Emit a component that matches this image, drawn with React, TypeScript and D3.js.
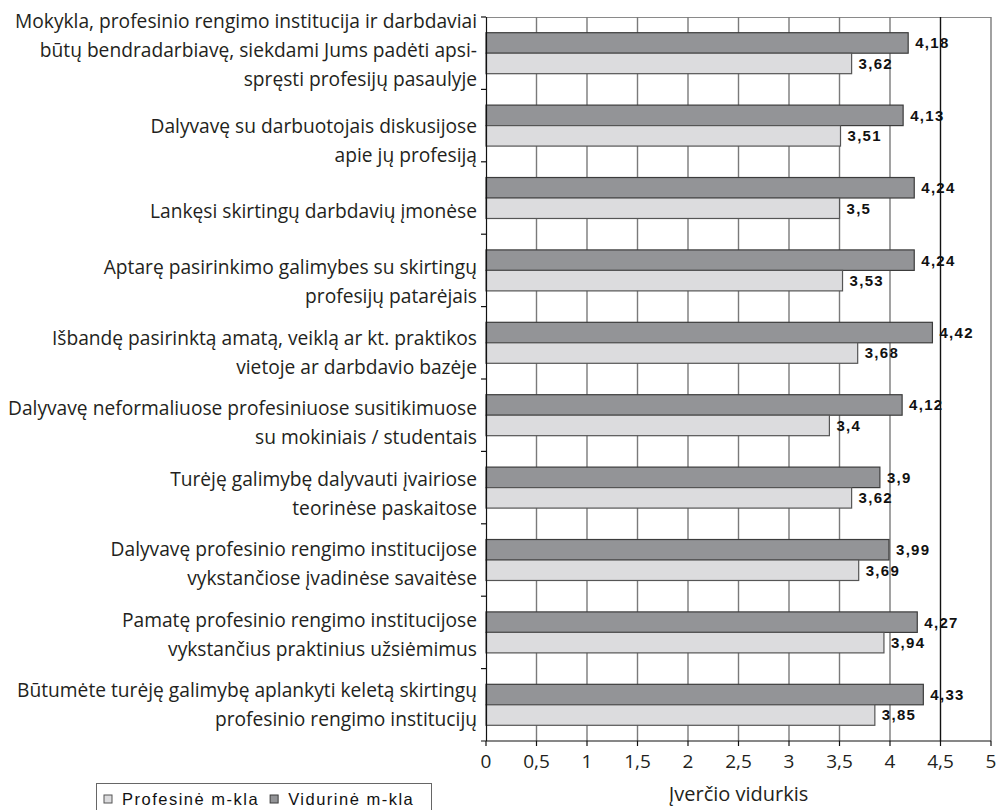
import * as d3 from 'd3';
import { useEffect, useRef } from 'react';

const categories = [
  ['Mokykla, profesinio rengimo institucija ir darbdaviai', 'būtų bendradarbiavę, siekdami Jums padėti apsi-', 'spręsti profesijų pasaulyje'],
  ['Dalyvavę su darbuotojais diskusijose', 'apie jų profesiją'],
  ['Lankęsi skirtingų darbdavių įmonėse'],
  ['Aptarę pasirinkimo galimybes su skirtingų', 'profesijų patarėjais'],
  ['Išbandę pasirinktą amatą, veiklą ar kt. praktikos', 'vietoje ar darbdavio  bazėje'],
  ['Dalyvavę neformaliuose profesiniuose susitikimuose', 'su mokiniais / studentais'],
  ['Turėję galimybę dalyvauti įvairiose', 'teorinėse paskaitose'],
  ['Dalyvavę profesinio rengimo institucijose', 'vykstančiose įvadinėse savaitėse'],
  ['Pamatę profesinio rengimo institucijose', 'vykstančius praktinius užsiėmimus'],
  ['Būtumėte turėję galimybę aplankyti keletą skirtingų', 'profesinio rengimo institucijų'],
];
const vidurine = [4.18, 4.13, 4.24, 4.24, 4.42, 4.12, 3.9, 3.99, 4.27, 4.33];
const profesine = [3.62, 3.51, 3.5, 3.53, 3.68, 3.4, 3.62, 3.69, 3.94, 3.85];
const seriesNames = ['Vidurinė m-kla', 'Profesinė m-kla'];
const legendOrder = ['Profesinė m-kla', 'Vidurinė m-kla'];
const xTicks = [0, 0.5, 1, 1.5, 2, 2.5, 3, 3.5, 4, 4.5, 5];
const xTitle = 'Įverčio vidurkis';

const colors: Record<string, { fill: string; stroke: string }> = {
  'Vidurinė m-kla': { fill: '#939497', stroke: '#3c3c3c' },
  'Profesinė m-kla': { fill: '#dcdcde', stroke: '#555555' },
};

const fmt = (v: number) => String(v).replace('.', ',');

export default function App() {
  const svgRef = useRef<SVGSVGElement>(null);

  useEffect(() => {
    const svgEl = svgRef.current;
    if (!svgEl) return;
    const width = 996;
    const height = 810;
    const margin = { top: 17, right: 5, bottom: 69, left: 486 };
    const innerW = width - margin.left - margin.right;
    const innerH = height - margin.top - margin.bottom;

    const svg = d3.select(svgEl);
    svg.attr('width', width).attr('height', height);
    svg.selectAll('*').remove();

    const keys = categories.map((_, i) => String(i));
    const rows = keys.map((k, i) => ({ key: k, values: [vidurine[i], profesine[i]] }));

    const x = d3.scaleLinear().domain([0, 5]).range([0, innerW]);
    const y = d3.scaleBand<string>().domain(keys).range([0, innerH]).paddingInner(0.434).paddingOuter(0.217);
    const band = d3.scaleBand<string>().domain(['0', '1']).range([0, y.bandwidth()]);
    const step = innerH / keys.length;

    const g = svg.append('g').attr('transform', `translate(${margin.left},${margin.top})`);

    // top border
    g.append('line').attr('x1', 0).attr('x2', innerW).attr('y1', 0.5).attr('y2', 0.5)
      .attr('stroke', '#8a8a8a').attr('stroke-width', 1.2);

    // vertical gridlines
    g.selectAll('.grid')
      .data(xTicks.filter((t) => t > 0))
      .join('line')
      .attr('x1', (d) => x(d)).attr('x2', (d) => x(d))
      .attr('y1', 0).attr('y2', innerH)
      .attr('stroke', (d) => (d === 4.5 ? '#111' : '#7a7a7a'))
      .attr('stroke-width', 1.4);

    // bars
    const groups = g.selectAll('.grp').data(rows).join('g')
      .attr('transform', (d) => `translate(0,${y(d.key)})`);
    groups.selectAll('rect')
      .data((d) => d.values.map((v, j) => ({ v, j })))
      .join('rect')
      .attr('x', 0)
      .attr('y', (d) => band(String(d.j))!)
      .attr('width', (d) => x(d.v))
      .attr('height', band.bandwidth())
      .attr('fill', (d) => colors[seriesNames[d.j]].fill)
      .attr('stroke', (d) => colors[seriesNames[d.j]].stroke)
      .attr('stroke-width', 1.2);
    groups.selectAll('text')
      .data((d) => d.values.map((v, j) => ({ v, j })))
      .join('text')
      .attr('x', (d) => x(d.v) + 7)
      .attr('y', (d) => band(String(d.j))! + band.bandwidth() / 2)
      .attr('dy', '0.36em')
      .attr('font-family', '"Liberation Sans", Arial, sans-serif')
      .attr('font-weight', 'bold')
      .attr('font-size', 15)
      .attr('letter-spacing', 1.3)
      .attr('fill', '#111')
      .text((d) => fmt(d.v));

    // axes
    g.append('line').attr('x1', 0.5).attr('x2', 0.5).attr('y1', 0).attr('y2', innerH)
      .attr('stroke', '#111').attr('stroke-width', 1.2);
    g.append('line').attr('x1', -5).attr('x2', innerW).attr('y1', innerH).attr('y2', innerH)
      .attr('stroke', '#111').attr('stroke-width', 1.2);
    g.selectAll('.ytick')
      .data(d3.range(keys.length))
      .join('line')
      .attr('x1', -5).attr('x2', 0)
      .attr('y1', (d) => d * step).attr('y2', (d) => d * step)
      .attr('stroke', '#111').attr('stroke-width', 1.2);
    g.selectAll('.xtick')
      .data(xTicks)
      .join('line')
      .attr('x1', (d) => x(d)).attr('x2', (d) => x(d))
      .attr('y1', innerH).attr('y2', innerH + 5)
      .attr('stroke', '#111').attr('stroke-width', 1.2);
    g.selectAll('.xlabel')
      .data(xTicks)
      .join('text')
      .attr('x', (d) => x(d))
      .attr('y', innerH + 27)
      .attr('text-anchor', 'middle')
      .attr('font-family', '"Open Sans", sans-serif')
      .attr('font-size', 19)
      .attr('fill', '#231f20')
      .text((d) => fmt(d));
    g.append('text')
      .attr('x', innerW / 2)
      .attr('y', innerH + 60)
      .attr('text-anchor', 'middle')
      .attr('font-family', '"Open Sans", sans-serif')
      .attr('font-size', 20)
      .attr('fill', '#231f20')
      .text(xTitle);

    // category labels
    const labelY = d3.scalePoint<string>().domain(keys).range([step * 0.74, innerH - step * 0.5]);
    const lh = 29;
    const cats = g.selectAll('.cat').data(rows).join('text')
      .attr('text-anchor', 'end')
      .attr('font-family', '"Open Sans", sans-serif')
      .attr('font-size', 19.2)
      .attr('fill', '#231f20');
    cats.each(function (d, i) {
      const lines = categories[i];
      const c = labelY(d.key)!;
      const start = c - ((lines.length - 1) * lh) / 2 - Math.max(lines.length - 2, 0) * 20;
      d3.select(this).selectAll('tspan').data(lines).join('tspan')
        .attr('x', -9)
        .attr('y', (_, k) => start + k * lh)
        .attr('dy', '0.35em')
        .text((t) => t);
    });

    // legend
    const lg = svg.append('g').attr('transform', 'translate(96,783)');
    lg.append('rect').attr('x', 0.5).attr('y', 0.5).attr('width', 335).attr('height', 30)
      .attr('fill', '#fff').attr('stroke', '#666');
    let lx = 8;
    legendOrder.forEach((name) => {
      lg.append('rect').attr('x', lx).attr('y', 12).attr('width', 8).attr('height', 8)
        .attr('fill', colors[name].fill).attr('stroke', colors[name].stroke);
      const t = lg.append('text').attr('x', lx + 18).attr('y', 16).attr('dy', '0.35em')
        .attr('font-family', '"Liberation Sans", Arial, sans-serif')
        .attr('font-size', 16.5)
        .attr('letter-spacing', 1.5)
        .attr('fill', '#111')
        .text(name);
      lx += 18 + (t.node() as SVGTextElement).getComputedTextLength() + 11;
    });
  }, []);

  return (
    <svg ref={svgRef} style={{ position: 'absolute', left: 0, top: 0, background: '#fff' }} />
  );
}
